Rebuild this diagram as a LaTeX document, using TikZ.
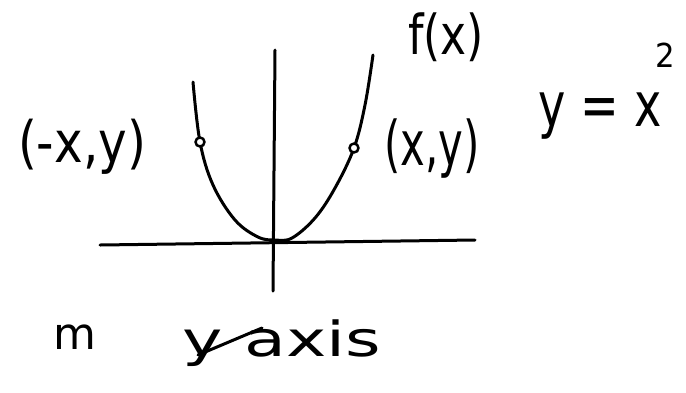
\documentclass[tikz,border=0pt]{standalone}
\usepackage{fontspec}
\usepackage{graphicx}
\setmainfont{DejaVu Sans}
\begin{document}
\begin{tikzpicture}[x=1pt,y=-1pt,line width=3pt,line cap=round,line join=round,
  lbl/.style={inner sep=0pt,font=\fontsize{44}{50}\selectfont},
  dot/.style={circle,draw,line width=2.5pt,inner sep=0pt,minimum size=9pt,fill=white}]
\useasboundingbox (0,0) rectangle (686,392);
% axes
\coordinate (xl) at (100,245);
\coordinate (xr) at (475,240);
\coordinate (yt) at (275,50);
\coordinate (yb) at (273,291);
\draw (xl) -- (xr);
\draw (yt) -- (yb);
% parabola
\draw plot[smooth,tension=0.6] coordinates {(193,82) (200,142) (213,185) (235,220) (258,237) (275,240) (292,238) (315,218) (335,188) (354,148) (365,105) (373,55)};
\node[dot] (pl) at (200,142) {};
\node[dot] (pr) at (354,148) {};
% labels
\node[lbl] (f) at (446,37) {\scalebox{1}[1.25]{f(x)}};
\node[lbl] (lp) at (82,147) {\scalebox{1.1}[1.3]{(-x,y)}};
\node[lbl] (rp) at (432,149) {\scalebox{0.95}[1.4]{(x,y)}};
\node[lbl] (eq) at (600,116) {\scalebox{1.05}[1.4]{y = x}};
\node[lbl] (sq) at (665,55) {\scalebox{0.7}[0.75]{2}};
\node[lbl] (m) at (75,337) {m};
\node[lbl] (ya) at (282,343) {\scalebox{1.55}[1.1]{y axis}};
\draw (198,355) -- (262,328);
\end{tikzpicture}
\end{document}
